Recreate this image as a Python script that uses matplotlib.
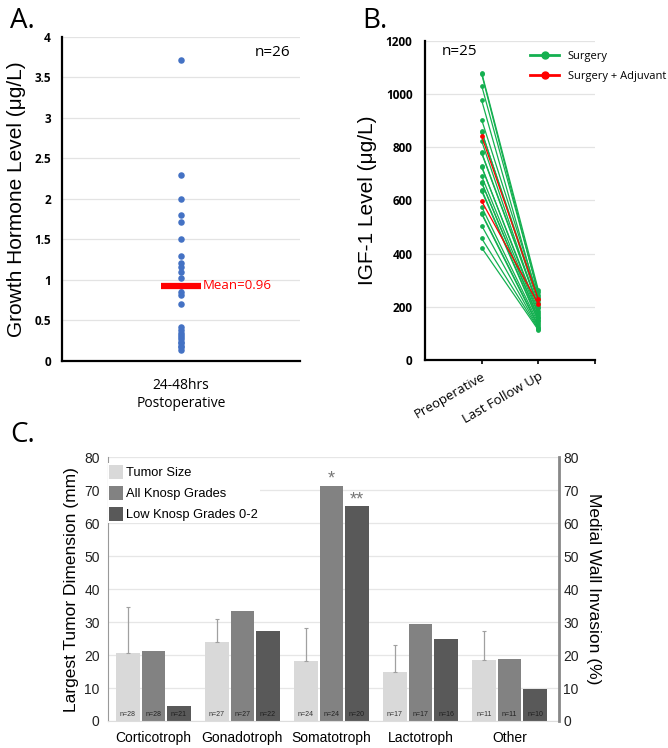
import numpy as np
import matplotlib
matplotlib.use("Agg")
import matplotlib.pyplot as plt
from matplotlib.lines import Line2D

plt.rcParams["font.family"] = ["Open Sans", "DejaVu Sans"]
ARIAL = ["Liberation Sans", "DejaVu Sans"]

# ---------- Panel A: GH levels 24-48 h postop ----------
gh_values = [3.72, 2.30, 2.00, 1.80, 1.71, 1.50, 1.30, 1.21, 1.16, 1.10,
             1.02, 0.93, 0.81, 0.70, 0.42, 0.38, 0.35, 0.32, 0.29, 0.27,
             0.24, 0.22, 0.19, 0.17, 0.14, 0.85]
gh_mean_pos = 0.93
gh_mean_label = "Mean=0.96"
gh_category = "24-48hrs\nPostoperative"

# ---------- Panel B: IGF-1 preop vs last follow up ----------
igf_labels = ["Preoperative", "Last Follow Up"]
igf_pre_surg = [1080, 1075, 1031, 976, 903, 860, 857, 823, 780, 777, 728,
                725, 691, 668, 666, 640, 635, 576, 552, 549, 505, 457, 422]
igf_post_surg = [263, 244, 255, 225, 238, 213, 230, 194, 205, 200, 175,
                 186, 170, 160, 157, 150, 145, 138, 130, 125, 120, 117, 113]
igf_pre_adj = [841, 597]
igf_post_adj = [228, 210]

# ---------- Panel C: tumor size / Knosp ----------
groups = ["Corticotroph", "Gonadotroph", "Somatotroph", "Lactotroph", "Other"]
tumor_size = [20.5, 24.1, 18.3, 14.9, 18.6]
tumor_size_err = [14.0, 6.9, 9.8, 8.2, 8.8]
all_knosp = [21.3, 33.4, 71.2, 29.4, 18.7]
low_knosp = [4.5, 27.3, 65.1, 25.0, 9.8]
n_ts = [28, 27, 24, 17, 11]
n_ak = [28, 27, 24, 17, 11]
n_lk = [21, 22, 20, 16, 10]
series_names = ["Tumor Size", "All Knosp Grades", "Low Knosp Grades 0-2"]

fig = plt.figure(figsize=(6.68, 7.48), dpi=100)

# ----- A -----
axA = fig.add_axes([0.0928, 0.5174, 0.3563, 0.4332])
axA.scatter(np.zeros(len(gh_values)), gh_values, s=22, color="#4472C4",
            zorder=3, linewidths=0)
axA.plot([-0.2, 0.2], [gh_mean_pos, gh_mean_pos], color="#FF0000", lw=4.5,
         solid_capstyle="butt", zorder=4)
axA.text(0.22, gh_mean_pos, gh_mean_label, color="#FF0000", fontsize=9.5,
         va="center", ha="left")
axA.set_xlim(-1.2, 1.2)
axA.set_ylim(0, 4)
axA.set_yticks(np.arange(0, 4.01, 0.5))
axA.set_yticklabels(["0", "0.5", "1", "1.5", "2", "2.5", "3", "3.5", "4"],
                    fontsize=8.5, fontweight="bold")
axA.set_xticks([0])
axA.set_xticklabels([gh_category], fontsize=10, linespacing=1.3)
axA.tick_params(axis="both", length=0, pad=8)
axA.tick_params(axis="x", pad=12)
axA.grid(axis="y", color="#e3e3e3", lw=0.9)
axA.set_axisbelow(True)
for sp in ["top", "right"]:
    axA.spines[sp].set_visible(False)
for sp in ["left", "bottom"]:
    axA.spines[sp].set_linewidth(1.6)
axA.set_ylabel("Growth Hormone Level (\u03bcg/L)", fontsize=15, labelpad=6,
               family=ARIAL)
axA.text(0.96, 0.975, "n=26", transform=axA.transAxes, ha="right", va="top",
         fontsize=11)
fig.text(0.015, 0.99, "A.", fontsize=20, va="top")

# ----- B -----
axB = fig.add_axes([0.6362, 0.5187, 0.2545, 0.4269])
green = "#14B050"
red = "#FF0000"
for a, b in zip(igf_pre_surg, igf_post_surg):
    axB.plot([0, 1], [a, b], color=green, lw=0.9, marker="o", ms=2.4)
for a, b in zip(igf_pre_adj, igf_post_adj):
    axB.plot([0, 1], [a, b], color=red, lw=0.9, marker="o", ms=2.4)
axB.set_xlim(-1, 2)
axB.set_ylim(0, 1200)
axB.set_yticks(range(0, 1201, 200))
axB.set_yticklabels([str(v) for v in range(0, 1201, 200)], fontsize=8.5,
                    fontweight="bold")
axB.set_xticks([0, 1, 2])
axB.set_xticklabels(igf_labels + [""], fontsize=9.5, rotation=30,
                    ha="right", rotation_mode="anchor")
axB.tick_params(axis="y", length=0, pad=9)
axB.tick_params(axis="x", length=3, width=1.2, direction="out", pad=4)
axB.grid(axis="y", color="#e3e3e3", lw=0.9)
axB.set_axisbelow(True)
for sp in ["top", "right"]:
    axB.spines[sp].set_visible(False)
for sp in ["left", "bottom"]:
    axB.spines[sp].set_linewidth(1.6)
axB.set_ylabel("IGF-1 Level (\u03bcg/L)", fontsize=15, labelpad=6,
               family=ARIAL)
axB.text(0.1, 0.99, "n=25", transform=axB.transAxes, ha="left", va="top",
         fontsize=11)
handles = [Line2D([0], [0], color=green, lw=2, marker="o", ms=5),
           Line2D([0], [0], color=red, lw=2, marker="o", ms=5)]
axB.legend(handles, ["Surgery", "Surgery + Adjuvant"], loc="upper left",
           bbox_to_anchor=(0.56, 1.0), frameon=False, fontsize=8,
           handlelength=2.6, handletextpad=0.8, labelspacing=0.8)
fig.text(0.543, 0.99, "B.", fontsize=20, va="top")

# ----- C -----
axC = fig.add_axes([0.1617, 0.0361, 0.6756, 0.3525])
x = np.arange(len(groups))
w = 0.262
off = 0.287
cols = ["#d9d9d9", "#828282", "#595959"]
axC.bar(x - off, tumor_size, w, color=cols[0], zorder=2, label=series_names[0])
axC.errorbar(x - off, tumor_size, yerr=[np.zeros(len(x)), tumor_size_err],
             fmt="none", ecolor="#a0a0a0", elinewidth=0.9, capsize=1.2,
             capthick=0.8, zorder=3)
axC.bar(x, all_knosp, w, color=cols[1], zorder=2, label=series_names[1])
axC.bar(x + off, low_knosp, w, color=cols[2], zorder=2, label=series_names[2])
for i in range(len(x)):
    axC.text(x[i] - off, 1.0, f"n={n_ts[i]}", ha="center", va="bottom",
             fontsize=5, color="#333333", zorder=4, family=ARIAL)
    axC.text(x[i], 1.0, f"n={n_ak[i]}", ha="center", va="bottom",
             fontsize=5, color="#222222", zorder=4, family=ARIAL)
    axC.text(x[i] + off, 1.0, f"n={n_lk[i]}", ha="center", va="bottom",
             fontsize=5, color="#1e1e1e", zorder=4, family=ARIAL)
axC.text(x[2], all_knosp[2] - 0.5, "*", ha="center", va="bottom",
         fontsize=13, color="#777777", family=ARIAL)
axC.text(x[2] + off, low_knosp[2] - 0.5, "**", ha="center", va="bottom",
         fontsize=13, color="#777777", family=ARIAL)
axC.set_xlim(-0.51, 4.56)
axC.set_ylim(0, 80)
axC.set_yticks(range(0, 81, 10))
axC.set_yticklabels([str(v) for v in range(0, 81, 10)], family=ARIAL)
axC.tick_params(axis="y", length=0, labelsize=10, colors="#222222", pad=6)
axC.set_xticks(x)
axC.set_xticklabels(groups, fontsize=10, family=ARIAL)
axC.tick_params(axis="x", length=0, pad=7)
axC.grid(axis="y", color="#e6e6e6", lw=0.9, zorder=0)
axC.set_axisbelow(True)
axC.spines["top"].set_visible(False)
axC.spines["right"].set_visible(False)
axC.spines["left"].set_color("#999999")
axC.spines["left"].set_linewidth(0.8)
axC.spines["bottom"].set_color("#dddddd")
axC.set_ylabel("Largest Tumor Dimension (mm)", fontsize=12.5, labelpad=4,
               family=ARIAL)
leg = axC.legend(loc="upper left", bbox_to_anchor=(-0.004, 0.985),
                 prop={"family": ARIAL, "size": 9.3},
                 handlelength=1.05, handleheight=1.35, handletextpad=0.25,
                 labelspacing=0.5, borderpad=0.15, borderaxespad=0.1,
                 frameon=True, fancybox=False)
leg.get_frame().set_edgecolor("none")
leg.get_frame().set_facecolor("white")
leg.get_frame().set_alpha(1)

axC2 = axC.twinx()
axC2.set_ylim(0, 80)
axC2.set_yticks(range(0, 81, 10))
axC2.set_yticklabels([str(v) for v in range(0, 81, 10)], family=ARIAL)
axC2.tick_params(axis="y", length=0, labelsize=10, colors="#222222", pad=3)
for sp in ["top", "left", "bottom"]:
    axC2.spines[sp].set_visible(False)
axC2.spines["right"].set_color("#888888")
axC2.spines["right"].set_linewidth(2)
axC2.set_ylabel("Medial Wall Invasion (%)", fontsize=12.5, rotation=270,
                labelpad=16, family=ARIAL)
fig.text(0.015, 0.437, "C.", fontsize=20, va="top")

fig.savefig("out.png", dpi=100)
